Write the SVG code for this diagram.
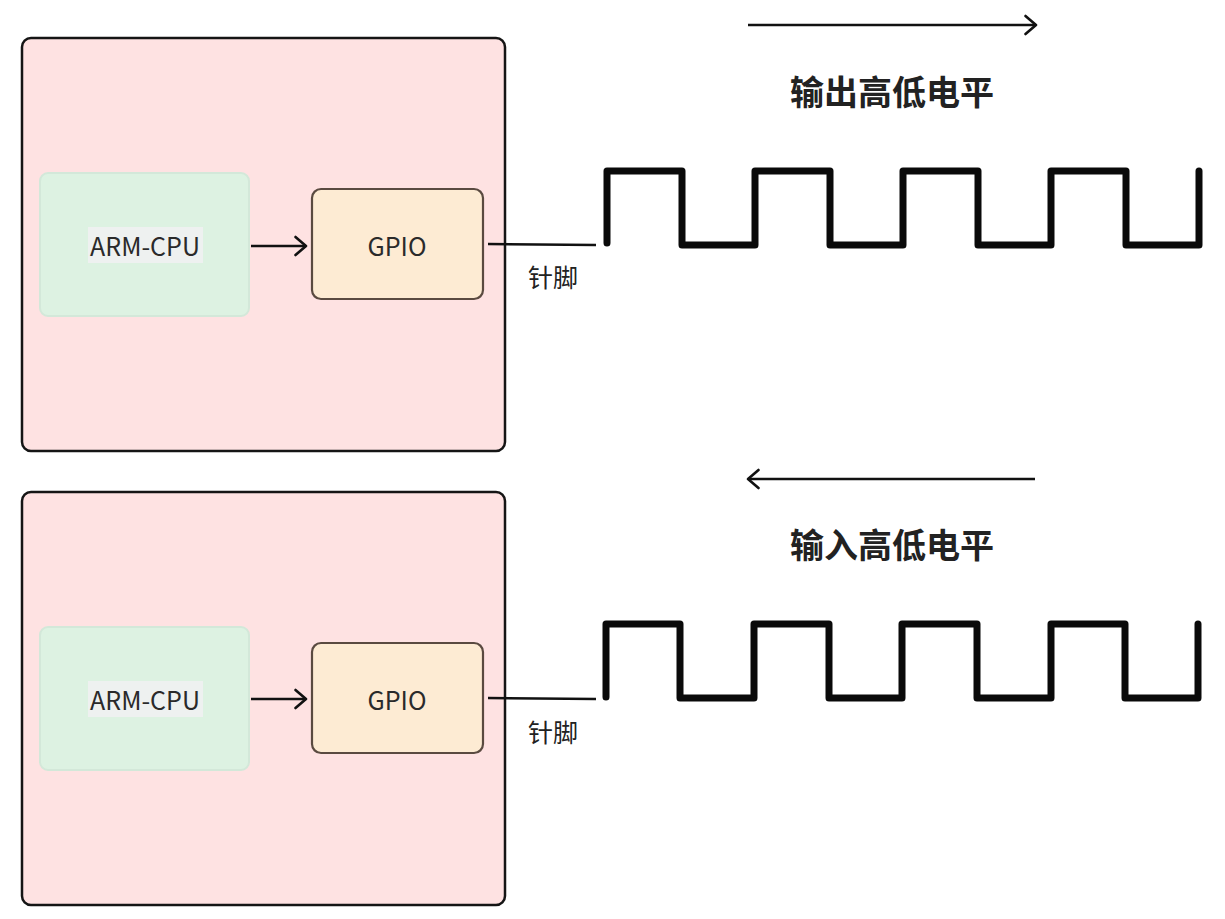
<svg xmlns="http://www.w3.org/2000/svg" width="1225" height="919" viewBox="0 0 1225 919">
  <style>
    .board { fill: #fee2e2; stroke: #151515; stroke-width: 2.5; }
    .cpu { fill: #ddf2e2; stroke: #d3e8d9; stroke-width: 2; }
    .gpio { fill: #fdebd3; stroke: #5a4a40; stroke-width: 2.2; }
    .hl { fill: #eef1f0; }
    .lbl { font-family: "Noto Sans CJK SC", "Noto Sans", sans-serif; font-size: 25px; fill: #2a2a2a; text-anchor: middle; }
    .pin { font-family: "Noto Sans CJK SC", sans-serif; font-size: 25px; fill: #222; text-anchor: middle; }
    .title { font-family: "Noto Sans CJK SC", sans-serif; font-size: 34px; font-weight: bold; fill: #222; text-anchor: middle; }
    .wire { fill: none; stroke: #111; stroke-width: 2.5; }
    .arrow { fill: none; stroke: #111; stroke-width: 2.5; marker-end: url(#chev); }
    .wave { fill: none; stroke: #0a0a0a; stroke-width: 7; stroke-linejoin: round; stroke-linecap: round; }
  </style>
  <defs>
    <marker id="chev" viewBox="0 0 14 22" refX="12" refY="11" markerWidth="14" markerHeight="22" markerUnits="userSpaceOnUse" orient="auto">
      <path d="M1.5,2 L12,11 L1.5,20" fill="none" stroke="#111" stroke-width="2.6" stroke-linecap="round" stroke-linejoin="round"/>
    </marker>
  </defs>

  <g id="board-top">
    <rect class="board" x="22" y="38" width="483" height="413" rx="9"/>
  </g>
  <g id="cpu-top">
    <rect class="cpu" x="40" y="173" width="209" height="143" rx="8"/>
    <rect class="hl" x="88" y="227" width="115" height="36"/>
    <text class="lbl" x="145" y="256">ARM-CPU</text>
  </g>
  <g id="gpio-top">
    <rect class="gpio" x="312" y="189" width="171" height="110" rx="9"/>
    <text class="lbl" x="397" y="256">GPIO</text>
  </g>
  <g id="pin-top">
    <text class="pin" x="553" y="287">针脚</text>
  </g>
  <g id="wave-top">
    <path class="wave" d="M607,243 V171 H682 V245 H755 V171 H830 V245 H903 V171 H978 V245 H1051 V171 H1126 V245 H1199 V171"/>
  </g>
  <g id="title-top">
    <text class="title" x="892" y="105">输出高低电平</text>
  </g>

  <g id="board-bottom">
    <rect class="board" x="22" y="492" width="483" height="413" rx="9"/>
  </g>
  <g id="cpu-bottom">
    <rect class="cpu" x="40" y="627" width="209" height="143" rx="8"/>
    <rect class="hl" x="88" y="681" width="115" height="36"/>
    <text class="lbl" x="145" y="710">ARM-CPU</text>
  </g>
  <g id="gpio-bottom">
    <rect class="gpio" x="312" y="643" width="171" height="110" rx="9"/>
    <text class="lbl" x="397" y="710">GPIO</text>
  </g>
  <g id="pin-bottom">
    <text class="pin" x="553" y="742">针脚</text>
  </g>
  <g id="wave-bottom">
    <path class="wave" d="M606,697 V624 H680 V698 H754 V624 H829 V698 H902 V624 H977 V698 H1051 V624 H1125 V698 H1198 V624"/>
  </g>
  <g id="title-bottom">
    <text class="title" x="892" y="558">输入高低电平</text>
  </g>

  <g id="connectors">
    <line class="arrow" x1="251" y1="246" x2="306" y2="246"/>
    <line class="wire" x1="488" y1="244" x2="596" y2="245"/>
    <line class="arrow" x1="748" y1="25" x2="1036" y2="25"/>
    <line class="arrow" x1="251" y1="699" x2="306" y2="699"/>
    <line class="wire" x1="488" y1="698" x2="596" y2="699"/>
    <line class="arrow" x1="1035" y1="479" x2="748" y2="479"/>
  </g>
</svg>
